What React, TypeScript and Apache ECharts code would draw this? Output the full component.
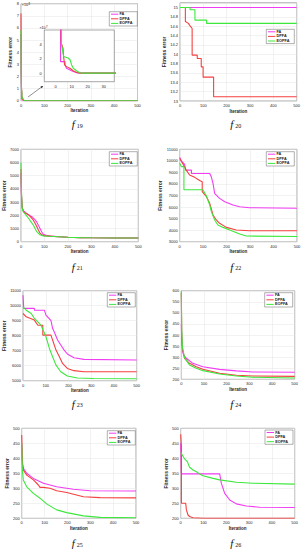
import React, { useEffect, useRef } from 'react';
import * as echarts from 'echarts';

type Pt = [number, number];

const SERIES_NAMES = ['FA', 'DPFA', 'EOPFA'];
const SERIES_COLORS = ['#f23cf2', '#f54040', '#3ce83c'];
const FUNC_LABELS = ['19', '20', '21', '22', '23', '24', '25', '26'];
const X_TICKS = [0, 500, 100]; // min, max, step of Iteration axis

// f19 values in units of 1e7 (main plot shows them in 1e8)
const f19FA: Pt[] = [[0, 55], [1, 22], [2, 9], [3.1, 7], [3.1, 1.6], [5.8, 1.6], [6, 1.1], [6.8, 0.67], [9.9, 0.33], [13, 0.05], [15, 0], [500, 0]];
const f19DPFA: Pt[] = [[0, 72], [1, 30], [2, 12], [3.5, 6.5], [3.5, 4.2], [4.6, 3.5], [5, 2.3], [5.6, 1.14], [6.8, 0.9], [8.9, 0.67], [11, 0.33], [13, 0.1], [15, 0], [500, 0]];
const f19EOPFA: Pt[] = [[0, 58], [1, 24], [2, 10], [3.7, 6.5], [3.7, 4], [5, 2.3], [7.8, 2.1], [9, 1.86], [10, 1.14], [11, 0.67], [13, 0.33], [15, 0.05], [16, 0], [500, 0]];

const f20FA: Pt[] = [[0, 15], [500, 15]];
const f20DPFA: Pt[] = [[0, 15], [23, 15], [23, 14.7], [36, 14.66], [44, 14.6], [52, 14.55], [52, 13.98], [74, 13.98], [74, 13.91], [91, 13.91], [91, 13.73], [99, 13.73], [99, 13.51], [144, 13.51], [144, 13.09], [500, 13.09]];
const f20EOPFA: Pt[] = [[0, 15], [43, 15], [43, 14.95], [64, 14.95], [64, 14.73], [114, 14.73], [114, 14.66], [500, 14.66]];

const f21FA: Pt[] = [[0, 5200], [2, 3500], [5, 2600], [10, 2350], [20, 2200], [35, 2000], [50, 1850], [60, 1650], [67, 1500], [75, 1200], [81, 1000], [88, 750], [95, 560], [110, 470], [130, 420], [160, 380], [200, 340], [250, 310], [300, 295], [400, 285], [500, 280]];
const f21DPFA: Pt[] = [[0, 5500], [2, 3600], [5, 2600], [10, 2300], [20, 2150], [35, 2000], [50, 1700], [60, 1400], [67, 1150], [75, 850], [81, 650], [90, 500], [100, 460], [120, 420], [160, 380], [200, 340], [250, 310], [300, 295], [400, 285], [500, 280]];
const f21EOPFA: Pt[] = [[0, 6000], [2, 3800], [5, 2500], [10, 2250], [20, 2050], [35, 1700], [45, 1450], [53, 1250], [60, 1000], [67, 760], [81, 520], [95, 440], [120, 410], [160, 375], [200, 340], [250, 310], [300, 295], [400, 285], [500, 280]];

const f22FA: Pt[] = [[0, 10300], [7, 10000], [21, 9700], [25, 9200], [50, 9200], [50, 8900], [128, 8900], [135, 8600], [142, 8050], [149, 7180], [156, 7040], [170, 6750], [192, 6460], [227, 6170], [256, 6030], [298, 5940], [500, 5900]];
const f22DPFA: Pt[] = [[0, 10200], [14, 9720], [28, 9200], [42, 8770], [64, 8570], [85, 8300], [96, 8200], [96, 7330], [114, 6900], [128, 6320], [142, 5310], [156, 4880], [170, 4590], [199, 4240], [241, 4010], [298, 3950], [500, 3950]];
const f22EOPFA: Pt[] = [[0, 9800], [7, 9500], [18, 9500], [18, 7500], [99, 7500], [114, 6950], [128, 6170], [135, 5600], [149, 4880], [163, 4440], [185, 4240], [213, 4010], [256, 3660], [284, 3490], [500, 3450]];

const f23FA: Pt[] = [[0, 10700], [3, 9820], [50, 9820], [50, 9700], [94, 9700], [101, 9370], [123, 9000], [130, 8490], [137, 8260], [152, 7710], [166, 7380], [181, 7040], [195, 6780], [224, 6530], [268, 6420], [500, 6380]];
const f23DPFA: Pt[] = [[0, 9480], [14, 9260], [50, 9040], [65, 8700], [87, 8700], [87, 8040], [123, 8040], [130, 7710], [145, 7040], [160, 6600], [174, 6150], [195, 5820], [224, 5670], [268, 5600], [500, 5600]];
const f23EOPFA: Pt[] = [[0, 9930], [14, 9700], [36, 9480], [50, 9150], [79, 8700], [101, 7930], [116, 7150], [130, 6600], [145, 6040], [166, 5600], [195, 5310], [239, 5180], [311, 5150], [500, 5130]];

const f24FA: Pt[] = [[0, 450], [2, 380], [5, 330], [10, 310], [22, 295], [51, 272], [95, 257], [169, 245], [243, 238], [316, 233], [500, 232]];
const f24DPFA: Pt[] = [[0, 590], [2, 400], [5, 340], [14, 295], [36, 272], [66, 257], [95, 245], [169, 227], [243, 218], [316, 215], [500, 213]];
const f24EOPFA: Pt[] = [[0, 600], [2, 420], [5, 345], [14, 298], [36, 265], [66, 250], [95, 239], [169, 224], [243, 215], [316, 209], [500, 206]];

const f25FA: Pt[] = [[0, 450], [3, 380], [7, 367], [22, 350], [51, 333], [95, 317], [153, 305], [226, 297], [299, 292], [500, 291]];
const f25DPFA: Pt[] = [[0, 478], [3, 390], [7, 361], [22, 344], [51, 328], [73, 311], [80, 303], [95, 303], [124, 300], [153, 292], [197, 286], [270, 272], [343, 269], [500, 268]];
const f25EOPFA: Pt[] = [[0, 450], [3, 360], [7, 328], [22, 305], [51, 283], [80, 267], [109, 248], [153, 228], [197, 219], [270, 208], [343, 203], [500, 202]];

const f26FA: Pt[] = [[0, 450], [3, 450], [3, 348], [171, 348], [178, 317], [193, 283], [215, 261], [244, 248], [288, 241], [346, 237], [500, 236]];
const f26DPFA: Pt[] = [[0, 480], [3, 440], [3, 250], [22, 250], [25, 228], [32, 211], [39, 206], [54, 202], [98, 200], [500, 200]];
const f26EOPFA: Pt[] = [[0, 420], [18, 397], [29, 389], [39, 370], [54, 361], [69, 355], [83, 348], [98, 342], [142, 333], [171, 328], [244, 320], [317, 317], [500, 314]];

// y axis: min, max, step
const Y_RANGES: number[][] = [
  [0, 8, 1], [13, 15.1, 0.2], [0, 7000, 1000], [3000, 11000, 1000],
  [5000, 11000, 1000], [200, 600, 50], [200, 500, 50], [200, 500, 50],
];

const PANEL_DATA: Pt[][][] = [
  [f19FA, f19DPFA, f19EOPFA],
  [f20FA, f20DPFA, f20EOPFA],
  [f21FA, f21DPFA, f21EOPFA],
  [f22FA, f22DPFA, f22EOPFA],
  [f23FA, f23DPFA, f23EOPFA],
  [f24FA, f24DPFA, f24EOPFA],
  [f25FA, f25DPFA, f25EOPFA],
  [f26FA, f26DPFA, f26EOPFA],
];

const LAYOUT = [
  { left: 21, top: 3.7, width: 116.5, height: 97, yGap: 6.8, xGap: 7.5, lg: [109.3, 11.7], fx: 77.5, fy: 124 },
  { left: 180, top: 2.8, width: 116.7, height: 98.2, yGap: 11.2, xGap: 7.5, lg: [266.3, 29.3], fx: 236, fy: 124 },
  { left: 21, top: 149.3, width: 117.3, height: 92.4, yGap: 11.8, xGap: 7.5, lg: [109.3, 151.7], fx: 77.5, fy: 266.5 },
  { left: 179.7, top: 149.3, width: 117.3, height: 92.4, yGap: 14.2, xGap: 7.5, lg: [266.3, 151.7], fx: 236, fy: 266.5 },
  { left: 21.7, top: 290.7, width: 115, height: 90, yGap: 13.5, xGap: 7, lg: [107.3, 292.7], fx: 77.5, fy: 403.5 },
  { left: 181.3, top: 290.7, width: 113.4, height: 88.6, yGap: 9.1, xGap: 7, lg: [264.7, 292.7], fx: 236, fy: 403.5 },
  { left: 21.7, top: 428.3, width: 114.3, height: 90, yGap: 8.5, xGap: 7.5, lg: [107.3, 430.7], fx: 77.5, fy: 543 },
  { left: 180.7, top: 428.3, width: 114, height: 90, yGap: 10.2, xGap: 7.5, lg: [265, 430], fx: 236, fy: 543 },
];

const SANS = 'Liberation Sans, Arial, sans-serif';
const SERIF = 'Liberation Serif, Times New Roman, serif';
const LABEL_COLOR = '#262626';
const plain = (v: number) => String(Math.round(v * 1000) / 1000);

function buildOption() {
  const grid: any[] = [];
  const xAxis: any[] = [];
  const yAxis: any[] = [];
  const series: any[] = [];
  const graphic: any[] = [];

  LAYOUT.forEach((g, i) => {
    const [ymin, ymax, ystep] = Y_RANGES[i];
    grid.push({
      left: g.left, top: g.top, width: g.width, height: g.height,
      show: true, borderColor: '#505050', borderWidth: 0.5,
    });
    xAxis.push({
      type: 'value', gridIndex: i, min: X_TICKS[0], max: X_TICKS[1], interval: X_TICKS[2],
      name: 'Iteration', nameLocation: 'middle', nameGap: g.xGap,
      nameTextStyle: { fontSize: 4.5, fontWeight: 'bold', fontFamily: SANS, color: LABEL_COLOR },
      axisLine: { show: false }, axisTick: { show: false },
      axisLabel: { fontSize: 4, margin: 2.5, color: LABEL_COLOR, fontFamily: SANS, formatter: plain },
      splitLine: { show: true, lineStyle: { color: '#e4e4e4', width: 0.5 } },
    });
    yAxis.push({
      type: 'value', gridIndex: i, min: ymin, max: ymax, interval: ystep,
      name: 'Fitness error', nameLocation: 'middle', nameGap: g.yGap,
      nameTextStyle: { fontSize: 5, fontWeight: 'bold', fontFamily: SANS, color: LABEL_COLOR },
      axisLine: { show: false }, axisTick: { show: false },
      axisLabel: { fontSize: 4, margin: 2, color: LABEL_COLOR, fontFamily: SANS, formatter: plain, showMaxLabel: i === 1 ? false : true },
      splitLine: { show: true, lineStyle: { color: '#e4e4e4', width: 0.5 } },
    });
    PANEL_DATA[i].forEach((d, k) => {
      series.push({
        type: 'line', name: SERIES_NAMES[k], xAxisIndex: i, yAxisIndex: i,
        data: i === 0 ? d.map(([x, y]) => [x, y / 10]) : d,
        showSymbol: false, symbol: 'none',
        lineStyle: { color: SERIES_COLORS[k], width: 1.1 },
        itemStyle: { color: SERIES_COLORS[k] },
      });
    });

    // legend box
    const [lx, ly] = g.lg;
    graphic.push({
      type: 'rect', shape: { x: lx, y: ly, width: 28, height: 14.3 },
      style: { fill: '#fff', stroke: '#3a3a3a', lineWidth: 0.4 }, z: 20,
    });
    SERIES_NAMES.forEach((n, k) => {
      const yy = ly + 2.5 + k * 4.6;
      graphic.push({
        type: 'line', shape: { x1: lx + 1.7, y1: yy, x2: lx + 9, y2: yy },
        style: { stroke: SERIES_COLORS[k], lineWidth: 1 }, z: 21,
      });
      graphic.push({
        type: 'text', x: lx + 10.2, y: yy,
        style: { text: n, fontSize: 3.8, fontWeight: 'bold', fontFamily: SANS, fill: '#222', textVerticalAlign: 'middle', verticalAlign: 'middle' },
        z: 21,
      });
    });

    // function label
    graphic.push({
      type: 'text', x: g.fx - 5.8, y: g.fy,
      style: { text: 'f', fontSize: 11, fontStyle: 'italic', fontFamily: SERIF, fill: '#111', verticalAlign: 'middle', textVerticalAlign: 'middle' },
    });
    graphic.push({
      type: 'text', x: g.fx - 0.8, y: g.fy + 1.8,
      style: { text: FUNC_LABELS[i], fontSize: 6, fontFamily: SERIF, fill: '#111', verticalAlign: 'middle', textVerticalAlign: 'middle' },
    });
  });

  // inset for f19
  grid.push({
    left: 44.3, top: 30, width: 70, height: 51.7, show: true,
    backgroundColor: '#fff', borderColor: '#505050', borderWidth: 0.5, z: 10,
  });
  xAxis.push({
    type: 'value', gridIndex: 8, min: -7, max: 36.5, splitNumber: 4, z: 11,
    axisLine: { show: false }, axisTick: { show: false },
    axisLabel: { fontSize: 4, margin: 2.5, color: LABEL_COLOR, fontFamily: SANS, showMinLabel: false, showMaxLabel: false },
    splitLine: { show: false },
  });
  yAxis.push({
    type: 'value', gridIndex: 8, min: -1.2, max: 6, splitNumber: 3, z: 11,
    axisLine: { show: false }, axisTick: { show: false },
    axisLabel: { fontSize: 4, margin: 2.5, color: LABEL_COLOR, fontFamily: SANS, showMinLabel: false, showMaxLabel: false },
    splitLine: { show: false },
  });
  PANEL_DATA[0].forEach((d, k) => {
    series.push({
      type: 'line', name: SERIES_NAMES[k], xAxisIndex: 8, yAxisIndex: 8, z: 12,
      data: d, showSymbol: false, symbol: 'none',
      lineStyle: { color: SERIES_COLORS[k], width: 1.1 },
      itemStyle: { color: SERIES_COLORS[k] },
    });
  });

  // exponent labels
  graphic.push({ type: 'text', x: 21.8, y: 5.4, style: { text: '×10', fontSize: 3.6, fontFamily: SANS, fill: '#222', verticalAlign: 'middle', textVerticalAlign: 'middle' }, z: 20 });
  graphic.push({ type: 'text', x: 28.4, y: 3.9, style: { text: '8', fontSize: 2.8, fontFamily: SANS, fill: '#222', verticalAlign: 'middle', textVerticalAlign: 'middle' }, z: 20 });
  graphic.push({ type: 'text', x: 39.5, y: 28.2, style: { text: '×10', fontSize: 3.6, fontFamily: SANS, fill: '#222', verticalAlign: 'middle', textVerticalAlign: 'middle' }, z: 20 });
  graphic.push({ type: 'text', x: 46.1, y: 26.7, style: { text: '7', fontSize: 2.8, fontFamily: SANS, fill: '#222', verticalAlign: 'middle', textVerticalAlign: 'middle' }, z: 20 });

  // arrow pointing to the inset
  graphic.push({ type: 'line', shape: { x1: 28, y1: 97, x2: 41.5, y2: 87.1 }, style: { stroke: '#222', lineWidth: 0.5 }, z: 20 });
  graphic.push({ type: 'polygon', shape: { points: [[43.2, 85.9], [41.83, 88.27], [40.53, 86.49]] }, style: { fill: '#111' }, z: 20 });

  return {
    animation: false,
    backgroundColor: '#fff',
    grid, xAxis, yAxis, series, graphic,
  };
}

export default function App() {
  const ref = useRef<HTMLDivElement>(null);
  useEffect(() => {
    if (!ref.current) return;
    const chart = echarts.init(ref.current, null, { renderer: 'svg', width: 306, height: 550 });
    chart.setOption(buildOption());
    return () => chart.dispose();
  }, []);
  return (
    <div
      ref={ref}
      style={{ position: 'fixed', left: 0, top: 0, width: 306, height: 550, background: '#fff' }}
    />
  );
}
